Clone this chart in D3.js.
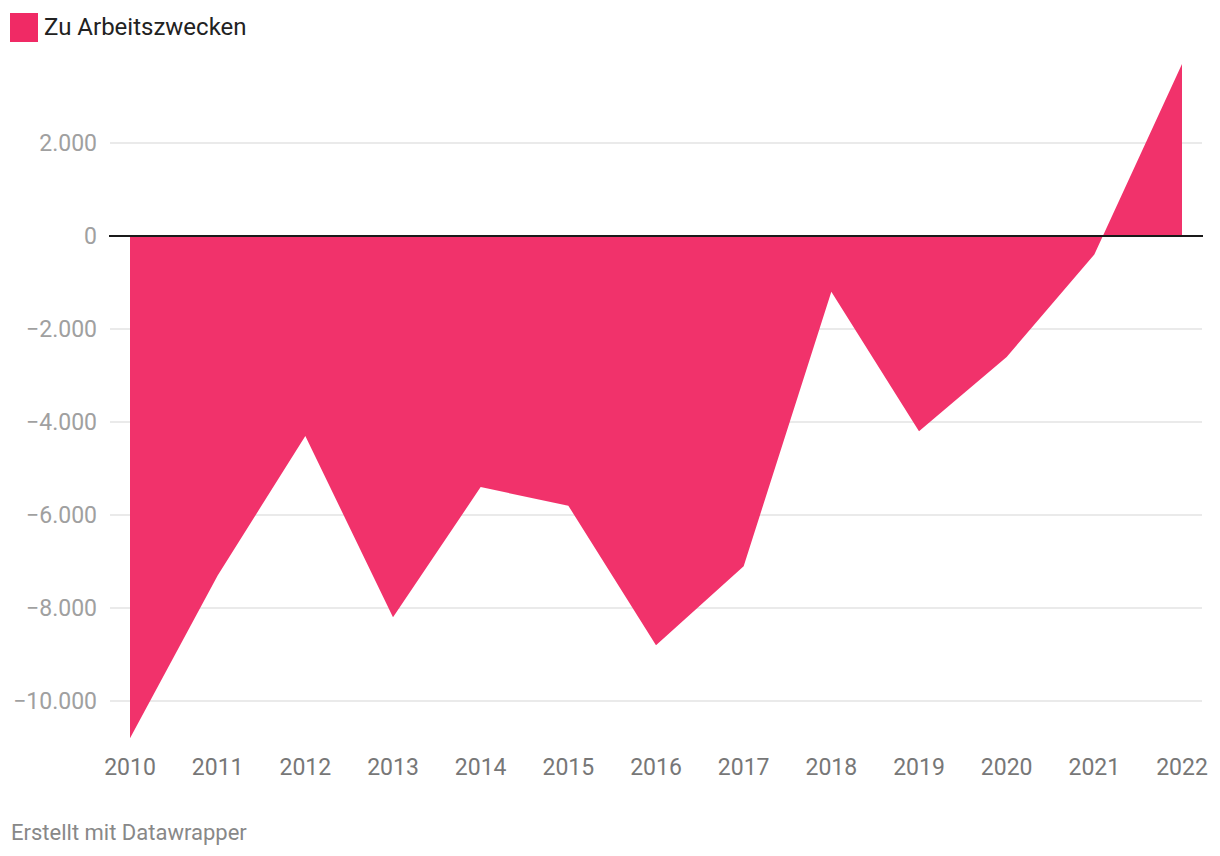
<!DOCTYPE html>
<html><head><meta charset="utf-8">
<script src="https://cdn.jsdelivr.net/npm/d3@7"></script>
<style>
body{margin:0;background:#fff;font-family:Roboto,"Noto Sans",sans-serif;}
</style></head>
<body>
<svg id="chart" width="1220" height="856"></svg>
<script>
const years = [2010,2011,2012,2013,2014,2015,2016,2017,2018,2019,2020,2021,2022];
const values = [-10800,-7300,-4300,-8200,-5400,-5800,-8800,-7100,-1200,-4200,-2600,-400,3700];
const yTicks = [2000,0,-2000,-4000,-6000,-8000,-10000];
const seriesName = "Zu Arbeitszwecken";
const footer = "Erstellt mit Datawrapper";

const svg = d3.select("#chart");
const x = d3.scaleLinear().domain([2010,2022]).range([130,1182]);
const y = d3.scaleLinear().domain([0,-10000]).range([236,701]);
const fmt = v => v===0 ? "0" : (v<0?"\u2212":"") + d3.format(",")(Math.abs(v)).replace(/,/g,".");

// grid
svg.append("g").selectAll("line").data(yTicks.filter(d=>d!==0)).join("line")
  .attr("x1",110).attr("x2",1202).attr("y1",d=>y(d)).attr("y2",d=>y(d))
  .attr("stroke","#e3e3e3").attr("stroke-width",1.5);
svg.append("g").selectAll("text").data(yTicks).join("text")
  .attr("x",97).attr("y",d=>y(d)).attr("dy","0.35em").attr("text-anchor","end")
  .attr("font-size",23).attr("fill","#a0a0a0").text(fmt);

// area
const area = d3.area().x((d,i)=>x(years[i])).y0(y(0)).y1(d=>y(d));
svg.append("path").datum(values).attr("d",area)
  .attr("fill","#f02a65").attr("fill-opacity",0.96);

// zero line
svg.append("line").attr("x1",109).attr("x2",1203).attr("y1",y(0)).attr("y2",y(0))
  .attr("stroke","#1a1a1a").attr("stroke-width",2);

// x labels
svg.append("g").selectAll("text").data(years).join("text")
  .attr("x",d=>x(d)).attr("y",767).attr("dy","0.35em").attr("text-anchor","middle")
  .attr("font-size",23).attr("fill","#777").text(d=>d);

// legend
svg.append("rect").attr("x",10).attr("y",13).attr("width",28).attr("height",29).attr("fill","#f02a65");
svg.append("text").attr("x",44).attr("y",27).attr("dy","0.35em").attr("font-size",24)
  .attr("fill","#222").text(seriesName);

// footer
svg.append("text").attr("x",11).attr("y",832).attr("dy","0.35em").attr("font-size",22)
  .attr("fill","#888").text(footer);
</script>
</body></html>
